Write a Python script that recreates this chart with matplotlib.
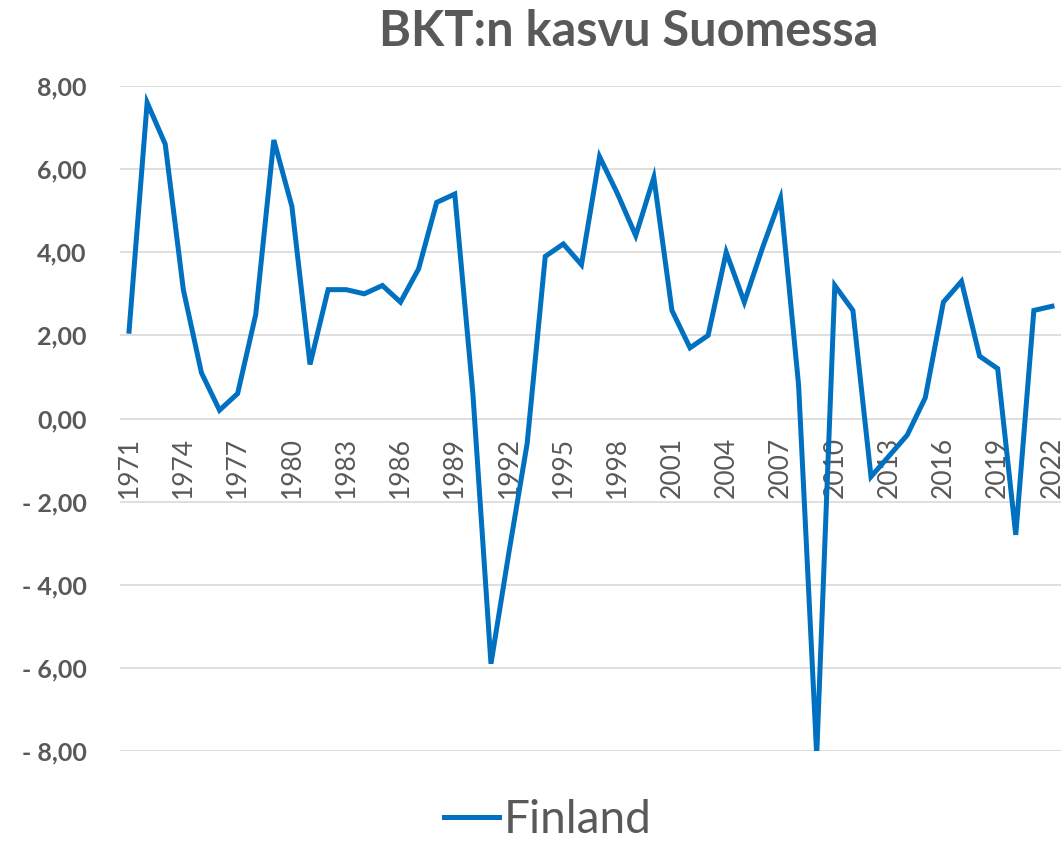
import numpy as np
import matplotlib.pyplot as plt

years = list(range(1971, 2023))
growth = [2.1, 7.6, 6.6, 3.1, 1.1, 0.2, 0.6, 2.5, 6.7, 5.1,
          1.3, 3.1, 3.1, 3.0, 3.2, 2.8, 3.6, 5.2, 5.4, 0.6,
          -5.9, -3.2, -0.6, 3.9, 4.2, 3.7, 6.3, 5.4, 4.4, 5.8,
          2.6, 1.7, 2.0, 4.0, 2.8, 4.1, 5.3, 0.8, -8.1, 3.2,
          2.6, -1.4, -0.9, -0.4, 0.5, 2.8, 3.3, 1.5, 1.2, -2.8,
          2.6, 2.7]
tick_years = years[::3]
y_ticks = [-8, -6, -4, -2, 0, 2, 4, 6, 8]

TEXT = '#595959'
plt.rcParams['font.family'] = ['Lato', 'DejaVu Sans']


def fmt(v):
    s = '{:.2f}'.format(abs(v)).replace('.', ',')
    return '- ' + s if v < 0 else s


def main():
    fig = plt.figure(figsize=(10.63, 8.41), dpi=100)
    ax = fig.add_axes([120 / 1063, 1 - 751 / 841, 941 / 1063, 665 / 841])

    ax.plot(years, growth, color='#0070C0', linewidth=3.6, label='Finland',
            solid_joinstyle='miter', zorder=3)

    # move the category axis to y=0 first (this resets the tick objects)
    ax.spines['bottom'].set_position(('data', 0))
    for s in ['top', 'right', 'left', 'bottom']:
        ax.spines[s].set_visible(False)

    ax.set_xlim(1970.5, 2022.5)
    ax.set_ylim(-8, 8)
    ax.set_yticks(y_ticks)
    ax.set_yticklabels([fmt(v) for v in y_ticks], fontsize=18, fontweight='bold', color=TEXT)
    ax.grid(axis='y', color='#d9d9d9', linewidth=1.2, zorder=0)

    ax.set_xticks(tick_years)
    ax.set_xticklabels([str(y) for y in tick_years], rotation=90, fontsize=19, color=TEXT)
    ax.tick_params(axis='x', length=0, pad=13)
    ax.tick_params(axis='y', length=0, pad=24)

    fig.text(629 / 1063, 1 - 32 / 841, 'BKT:n kasvu Suomessa', ha='center', va='center',
             fontsize=35, fontweight='bold', color=TEXT)

    leg = ax.legend(loc='center', bbox_to_anchor=(548 / 1063, 1 - 820 / 841),
                    bbox_transform=fig.transFigure, frameon=False, fontsize=33,
                    handlelength=1.2, handletextpad=0.1)
    for t in leg.get_texts():
        t.set_color(TEXT)

    fig.savefig('out.png', dpi=100)


if __name__ == "__main__":
    main()
